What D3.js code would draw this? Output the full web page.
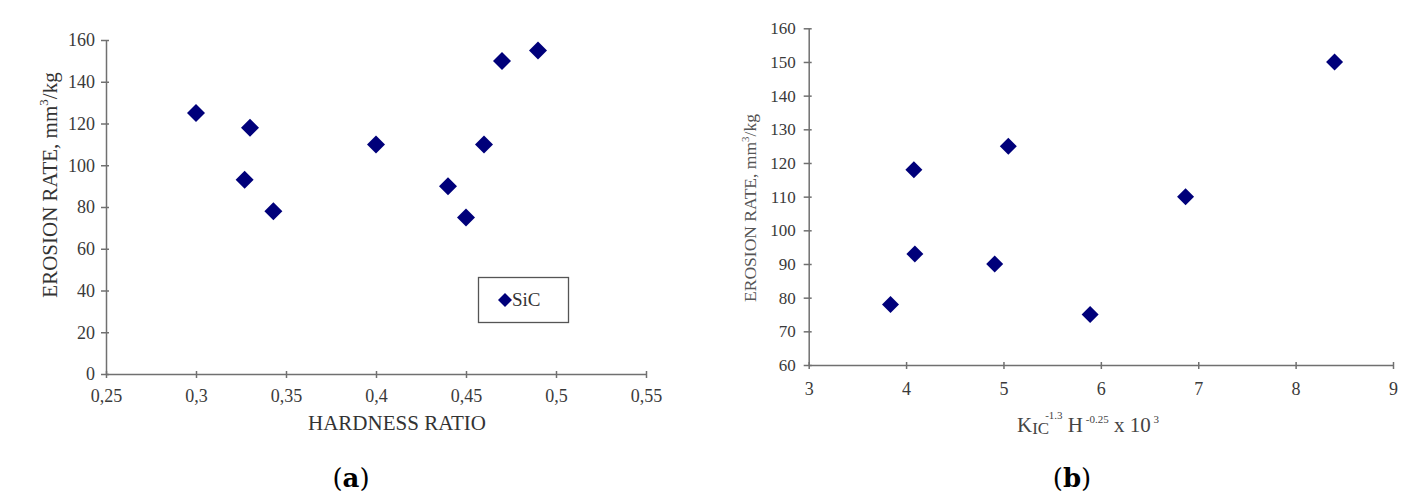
<!DOCTYPE html>
<html>
<head>
<meta charset="utf-8">
<script src="https://cdn.jsdelivr.net/npm/d3@7"></script>
<style>
  body { margin: 0; background: #fff; }
  svg { display: block; }
  text { font-family: "Liberation Serif", "Times New Roman", serif; }
  .axis path, .axis line { stroke: #707070; stroke-width: 1.5; }
  .axis text { fill: #3a3a3a; }
</style>
</head>
<body>
<svg id="chart" width="1428" height="499"></svg>
<script>
// panel (a): erosion rate vs hardness ratio
var aHardness = [0.300, 0.330, 0.327, 0.343, 0.400, 0.440, 0.450, 0.460, 0.470, 0.490];
var aErosion  = [125, 118, 93, 78, 110, 90, 75, 110, 150, 155];
var aXTicks = [0.25, 0.3, 0.35, 0.4, 0.45, 0.5, 0.55];
var aYTicks = [0, 20, 40, 60, 80, 100, 120, 140, 160];

// panel (b): erosion rate vs KIC^-1.3 H^-0.25 x 10^3
var bParam   = [3.84, 4.08, 4.09, 4.91, 5.05, 5.89, 6.87, 8.40];
var bErosion = [78, 118, 93, 90, 125, 75, 110, 150];
var bXTicks = [3, 4, 5, 6, 7, 8, 9];
var bYTicks = [60, 70, 80, 90, 100, 110, 120, 130, 140, 150, 160];

var svg = d3.select("#chart");
var navy = "#00007a";

function diamond(r) {
    return "M0," + (-r) + "L" + r + ",0L0," + r + "L" + (-r) + ",0Z";
}

// ticks in the original cross the axis line a little
function crossX(g) { g.selectAll(".tick line").attr("y1", -3); }
function crossY(g) { g.selectAll(".tick line").attr("x1", 3); }

// ---- panel (a)
var xA = d3.scaleLinear().domain([0.25, 0.55]).range([106, 646]);
var yA = d3.scaleLinear().domain([0, 160]).range([374, 40]);

svg.append("g").attr("class", "axis").attr("transform", "translate(0,374)")
    .call(d3.axisBottom(xA).tickValues(aXTicks).tickSize(4).tickSizeOuter(0).tickPadding(11)
        .tickFormat(function(d) { return String(d).replace(".", ","); }))
    .call(crossX)
    .attr("font-size", 18);

svg.append("g").attr("class", "axis").attr("transform", "translate(106,0)")
    .call(d3.axisLeft(yA).tickValues(aYTicks).tickSize(5).tickSizeOuter(0).tickPadding(6))
    .call(crossY)
    .attr("font-size", 18);

svg.append("g").selectAll("path").data(aHardness).join("path")
    .attr("d", diamond(9))
    .attr("transform", function(d, i) { return "translate(" + xA(d) + "," + yA(aErosion[i]) + ")"; })
    .attr("fill", navy);

var ta = svg.append("text").attr("transform", "translate(57,185) rotate(-90)")
    .attr("text-anchor", "middle").attr("font-size", 21).attr("fill", "#333");
ta.append("tspan").text("EROSION RATE, mm");
ta.append("tspan").attr("dy", -9).attr("font-size", 13).text("3");
ta.append("tspan").attr("dy", 9).text("/kg");

svg.append("text").attr("x", 397).attr("y", 430).attr("text-anchor", "middle")
    .attr("font-size", 21).attr("fill", "#333").text("HARDNESS RATIO");

// legend
svg.append("rect").attr("x", 478.5).attr("y", 277.5).attr("width", 90).attr("height", 45)
    .attr("fill", "#fff").attr("stroke", "#555").attr("stroke-width", 1.3);
svg.append("path").attr("d", diamond(7)).attr("transform", "translate(505,300)").attr("fill", navy);
svg.append("text").attr("x", 512).attr("y", 306).attr("font-size", 19).attr("fill", "#333").text("SiC");

// ---- panel (b)
var xB = d3.scaleLinear().domain([3, 9]).range([808.7, 1393]);
var yB = d3.scaleLinear().domain([60, 160]).range([365, 28.3]);

svg.append("g").attr("class", "axis").attr("transform", "translate(0,365)")
    .call(d3.axisBottom(xB).tickValues(bXTicks).tickSize(4).tickSizeOuter(0).tickPadding(13)
        .tickFormat(d3.format("d")))
    .call(crossX)
    .attr("font-size", 18);

svg.append("g").attr("class", "axis").attr("transform", "translate(808.7,0)")
    .call(d3.axisLeft(yB).tickValues(bYTicks).tickSize(5).tickSizeOuter(0).tickPadding(8))
    .call(crossY)
    .attr("font-size", 17);

svg.append("g").selectAll("path").data(bParam).join("path")
    .attr("d", diamond(8.5))
    .attr("transform", function(d, i) { return "translate(" + xB(d) + "," + yB(bErosion[i]) + ")"; })
    .attr("fill", navy);

var tb = svg.append("text").attr("transform", "translate(756,208) rotate(-90)")
    .attr("text-anchor", "middle").attr("font-size", 17.5).attr("fill", "#555");
tb.append("tspan").text("EROSION RATE, mm");
tb.append("tspan").attr("dy", -7).attr("font-size", 11).text("3");
tb.append("tspan").attr("dy", 7).text("/kg");

var xt = svg.append("text").attr("x", 1017).attr("y", 432).attr("font-size", 21).attr("fill", "#444");
xt.append("tspan").text("K");
xt.append("tspan").attr("font-size", 17).attr("dy", 2).text("IC");
xt.append("tspan").attr("font-size", 11).attr("dy", -15).attr("dx", -4).text("-1.3");
xt.append("tspan").attr("dy", 13).text(" H");
xt.append("tspan").attr("font-size", 11).attr("dy", -9).text(" -0.25");
xt.append("tspan").attr("dy", 9).text(" x 10");
xt.append("tspan").attr("font-size", 11).attr("dy", -9).text(" 3");

// panel letters
[["a", 351], ["b", 1072]].forEach(function(p) {
    var t = svg.append("text").attr("x", p[1]).attr("y", 487).attr("text-anchor", "middle")
        .attr("font-size", 26).attr("fill", "#000")
        .style("font-family", "'DejaVu Serif', serif");
    t.append("tspan").text("(");
    t.append("tspan").attr("font-weight", "bold").text(p[0]);
    t.append("tspan").text(")");
});
</script>
</body>
</html>
